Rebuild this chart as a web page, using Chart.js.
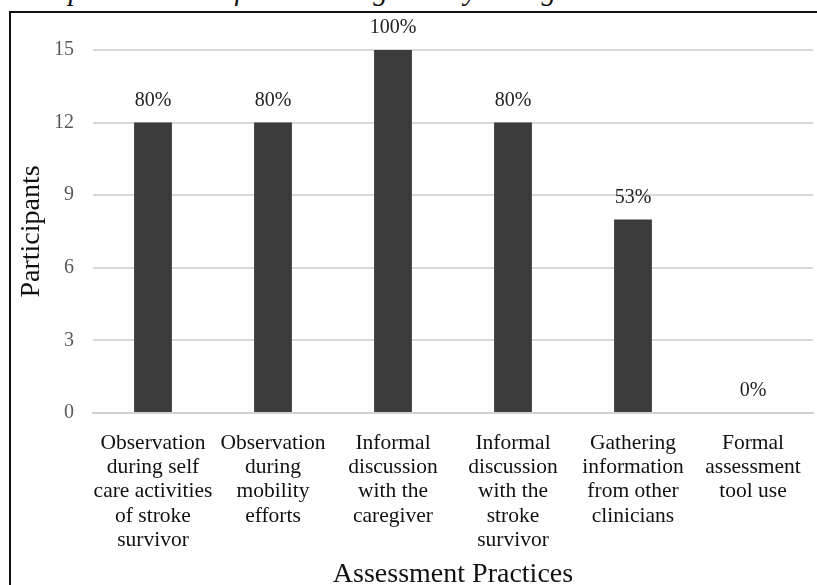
<!DOCTYPE html>
<html>
<head>
<meta charset="utf-8">
<script src="https://cdn.jsdelivr.net/npm/chart.js@4.4.0/dist/chart.umd.min.js"></script>
<style>
  html, body { margin: 0; padding: 0; background: #fff; overflow: hidden; }
  #wrap { position: relative; width: 817px; height: 585px; overflow: hidden; }
  #frame { position: absolute; left: 9px; top: 11px; width: 820px; height: 600px; border: 2px solid #111; box-sizing: border-box; }
  #caption { position: absolute; left: -12px; top: -26px; width: 900px; white-space: nowrap; font: italic 29px "Liberation Serif", serif; color: #111; }
  canvas { position: absolute; left: 0; top: 0; }
</style>
</head>
<body>
<div id="wrap">
  <div id="caption">Participant Methods for Assessing Family Caregiver's Assessment Needs</div>
  <div id="frame"></div>
  <canvas id="chart" width="817" height="585"></canvas>
</div>
<script>
const categories = [
  ["Observation", "during self", "care activities", "of stroke", "survivor"],
  ["Observation", "during", "mobility", "efforts"],
  ["Informal", "discussion", "with the", "caregiver"],
  ["Informal", "discussion", "with the", "stroke", "survivor"],
  ["Gathering", "information", "from other", "clinicians"],
  ["Formal", "assessment", "tool use"]
];
const participants = [12, 12, 15, 12, 8, 0];
const percentLabels = ["80%", "80%", "100%", "80%", "53%", "0%"];
const yTicks = [0, 3, 6, 9, 12, 15];

const serif = "'Liberation Serif', 'Times New Roman', serif";

// percentages above each bar
const valueLabels = {
  id: "valueLabels",
  afterDatasetsDraw(chart) {
    const ctx = chart.ctx;
    const meta = chart.getDatasetMeta(0);
    ctx.save();
    ctx.font = "20px " + serif;
    ctx.fillStyle = "#222";
    ctx.textAlign = "center";
    ctx.textBaseline = "middle";
    meta.data.forEach((bar, i) => {
      ctx.fillText(percentLabels[i], bar.x, bar.y - 22);
    });
    ctx.restore();
  }
};

const ctx = document.getElementById("chart").getContext("2d");
new Chart(ctx, {
  type: "bar",
  data: {
    labels: categories,
    datasets: [{
      data: participants,
      backgroundColor: "#3b3b3b",
      barPercentage: 0.63,
      categoryPercentage: 0.5
    }]
  },
  options: {
    responsive: false,
    animation: false,
    layout: { padding: { top: 50, right: 4, left: 15, bottom: 0 } },
    plugins: { legend: { display: false }, tooltip: { enabled: false } },
    scales: {
      x: {
        grid: { display: false },
        border: { color: "#d0d0d0", width: 2 },
        ticks: {
          color: "#111",
          font: { family: serif, size: 21.5, lineHeight: 1.13 },
          padding: 10,
          maxRotation: 0,
          autoSkip: false
        },
        title: {
          display: true,
          text: "Assessment Practices",
          color: "#111",
          font: { family: serif, size: 28 },
          padding: { top: 0, bottom: -6 }
        },
        afterFit(scale) { scale.height = 172; }
      },
      y: {
        min: 0,
        max: 15,
        afterBuildTicks(scale) { scale.ticks = yTicks.map(v => ({ value: v })); },
        grid: { color: "#d9d9d9", lineWidth: 2, drawTicks: false },
        border: { display: false },
        ticks: {
          color: "#595959",
          font: { family: serif, size: 20 },
          padding: 19
        },
        title: {
          display: true,
          text: "Participants",
          color: "#111",
          font: { family: serif, size: 28 },
          padding: { top: 0, bottom: 0 }
        },
        afterFit(scale) { scale.width = 78; }
      }
    }
  },
  plugins: [valueLabels]
});
</script>
</body>
</html>
